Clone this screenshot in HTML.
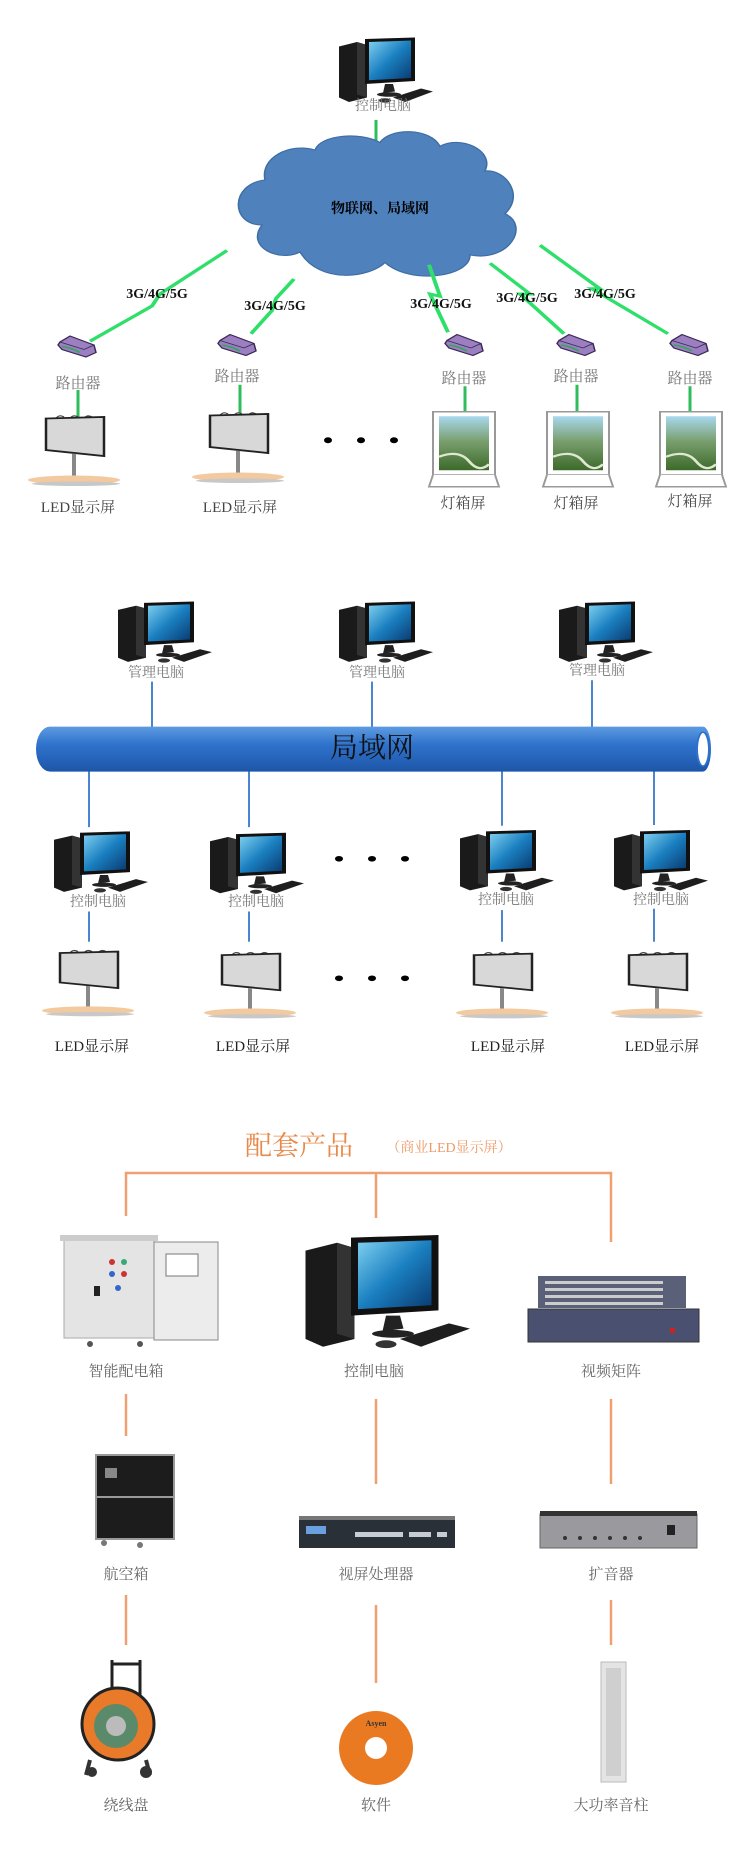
<!DOCTYPE html>
<html><head><meta charset="utf-8"><style>
html,body{margin:0;padding:0;background:#fff}
svg{display:block}
text{font-family:"Liberation Serif","Noto Serif CJK SC","Noto Sans CJK SC",serif}
</style></head><body>
<svg width="740" height="1854" viewBox="0 0 740 1854" xmlns="http://www.w3.org/2000/svg">
<defs>
<linearGradient id="scr" x1="0" y1="0" x2="1" y2="1"><stop offset="0" stop-color="#7fd0f0"/><stop offset="0.5" stop-color="#1a7fc0"/><stop offset="1" stop-color="#0a3a70"/></linearGradient>
<linearGradient id="tube" x1="0" y1="0" x2="0" y2="1"><stop offset="0" stop-color="#5d9be0"/><stop offset="0.4" stop-color="#2f72cc"/><stop offset="1" stop-color="#1d56a8"/></linearGradient>
<linearGradient id="land" x1="0" y1="0" x2="0" y2="1"><stop offset="0" stop-color="#a8d8ef"/><stop offset="0.45" stop-color="#7aa070"/><stop offset="1" stop-color="#3d6a2a"/></linearGradient>
<g id="pc">
 <polygon points="2,12 20,6 30,10 30,80 12,86 2,80" fill="#1a1a1a"/>
 <polygon points="20,6 30,10 30,80 20,76" fill="#333"/>
 <polygon points="28,2 78,0 78,58 28,62" fill="#111"/>
 <polygon points="32,6 74,4 74,54 32,57" fill="url(#scr)"/>
 <polygon points="48,62 56,62 58,72 46,74" fill="#222"/>
 <ellipse cx="52" cy="76" rx="12" ry="3" fill="#222"/>
 <polygon points="56,80 84,68 96,72 68,86" fill="#1e1e1e"/>
 <ellipse cx="48" cy="84" rx="6" ry="3" fill="#333"/>
</g>
<g id="router">
 <path d="M4,8 L14,0 L38,12 L40,22 L30,28 L6,18 L2,12 Z" fill="#9b7fc0" stroke="#3a2a55" stroke-width="1.5"/>
 <path d="M4,8 L28,18 L38,12" fill="none" stroke="#3a2a55" stroke-width="1"/>
 <path d="M6,14 Q16,16 24,22" fill="none" stroke="#2ea85a" stroke-width="2"/>
</g>
<g id="bb">
 <path d="M10,8 q3,-6 8,-2 M24,8 q3,-6 8,-2 M38,8 q3,-6 8,-2" fill="none" stroke="#444" stroke-width="1.5"/>
 <polygon points="0,8 58,6 58,58 0,50" fill="#d8d8d8" stroke="#222" stroke-width="2.5"/>
 <rect x="26" y="55" width="4" height="32" fill="#888"/>
 <ellipse cx="28" cy="90" rx="46" ry="6" fill="#f3c9a0"/>
 <ellipse cx="30" cy="95" rx="44" ry="3" fill="#c8c8c8"/>
</g>
<g id="lb">
 <rect x="4" y="0" width="62" height="84" fill="#fff" stroke="#999" stroke-width="2"/>
 <rect x="10" y="6" width="50" height="72" fill="url(#land)"/>
 <path d="M10,60 Q30,50 40,66 T60,70" stroke="#dfe8d0" stroke-width="3" fill="none"/>
 <path d="M4,84 L0,100 L70,100 L66,84" fill="#fff" stroke="#999" stroke-width="2"/>
</g>
</defs>

<!-- Section 1 shapes -->
<g transform="scale(1,0.75)">
<use href="#pc" x="337" y="50"/>
<line x1="376" y1="160" x2="376" y2="194" stroke="#2ebd5a" stroke-width="3"/>
<path d="M265,240 C230,245 230,300 262,300 C245,330 280,350 300,336 C320,380 370,370 385,350 C410,380 470,370 470,340 C510,350 530,300 505,285 C525,260 505,225 485,228 C495,200 460,180 440,195 C430,170 390,170 380,190 C360,175 320,180 315,200 C290,190 260,210 265,240 Z" fill="#4f81bd" stroke="#3d6da3" stroke-width="1.5"/>
<g fill="none" stroke="#2ee06a" stroke-width="4" stroke-linejoin="miter">
<polyline points="227,334 160,392 152,408 90,455"/>
<polyline points="294,372 276,398 272,414 251,445"/>
<polyline points="429,353 440,395 430,392 448,443"/>
<polyline points="490,351 530,392 520,392 564,445"/>
<polyline points="540,327 600,385 592,385 668,445"/>
</g>
<use href="#router" x="56" y="448"/><use href="#router" x="216" y="446"/>
<use href="#router" x="443" y="446"/><use href="#router" x="555" y="446"/><use href="#router" x="668" y="446"/>
<g stroke="#2ebd5a" stroke-width="3">
<line x1="78" y1="520" x2="78" y2="558"/><line x1="240" y1="513" x2="240" y2="551"/>
<line x1="465" y1="515" x2="465" y2="551"/><line x1="577" y1="513" x2="577" y2="551"/><line x1="690" y1="515" x2="690" y2="551"/>
</g>
<use href="#bb" x="46" y="550"/><use href="#bb" x="210" y="546"/>
<use href="#lb" x="429" y="549"/><use href="#lb" x="543" y="549"/><use href="#lb" x="656" y="549"/>
<g fill="#000"><circle cx="328" cy="587" r="4"/><circle cx="361" cy="587" r="4"/><circle cx="394" cy="587" r="4"/></g>
</g>
<!-- Section 1 text -->
<text x="383" y="110" font-size="14" fill="#777" text-anchor="middle">控制电脑</text>
<text x="380" y="213" font-size="14" font-weight="bold" text-anchor="middle" fill="#000" font-family="Liberation Sans,Noto Sans CJK SC,sans-serif">物联网、局域网</text>
<g font-family="Liberation Mono,monospace" font-weight="bold" font-size="14" fill="#111" text-anchor="middle">
<text x="157" y="298">3G/4G/5G</text>
<text x="275" y="310">3G/4G/5G</text>
<text x="441" y="308">3G/4G/5G</text>
<text x="527" y="302">3G/4G/5G</text>
<text x="605" y="298">3G/4G/5G</text>
</g>
<g font-size="15" fill="#777" text-anchor="middle">
<text x="78" y="388">路由器</text><text x="237" y="381">路由器</text><text x="464" y="383">路由器</text><text x="576" y="381">路由器</text><text x="690" y="383">路由器</text>
</g>
<g font-size="15" fill="#444" text-anchor="middle">
<text x="78" y="512">LED显示屏</text><text x="240" y="512">LED显示屏</text>
<text x="463" y="508">灯箱屏</text><text x="576" y="508">灯箱屏</text><text x="690" y="506">灯箱屏</text>
</g>

<!-- Section 2 shapes -->
<g transform="translate(0,560) scale(1,0.703) translate(0,-560)">
<use href="#pc" x="116" y="619"/><use href="#pc" x="337" y="619"/><use href="#pc" x="557" y="619"/>
<g stroke="#4a86d0" stroke-width="2">
<line x1="152" y1="733" x2="152" y2="798"/><line x1="372" y1="733" x2="372" y2="798"/><line x1="592" y1="731" x2="592" y2="798"/>
<line x1="89" y1="860" x2="89" y2="940"/><line x1="249" y1="860" x2="249" y2="940"/><line x1="502" y1="860" x2="502" y2="938"/><line x1="654" y1="860" x2="654" y2="937"/>
<line x1="89" y1="1060" x2="89" y2="1103"/><line x1="249" y1="1060" x2="249" y2="1103"/><line x1="502" y1="1058" x2="502" y2="1103"/><line x1="654" y1="1056" x2="654" y2="1103"/>
</g>
<path d="M50,797 L703,797 A8,32 0 0 1 703,861 L50,861 A14,32 0 0 1 50,797 Z" fill="url(#tube)"/>
<ellipse cx="703" cy="829" rx="6" ry="24" fill="#fff" stroke="#2f72cc" stroke-width="2"/>
<use href="#pc" x="52" y="946"/><use href="#pc" x="208" y="948"/><use href="#pc" x="458" y="944"/><use href="#pc" x="612" y="944"/>
<g fill="#000"><circle cx="339" cy="985" r="4"/><circle cx="372" cy="985" r="4"/><circle cx="405" cy="985" r="4"/>
<circle cx="339" cy="1155" r="4"/><circle cx="372" cy="1155" r="4"/><circle cx="405" cy="1155" r="4"/></g>
<use href="#bb" x="60" y="1111"/><use href="#bb" x="222" y="1114"/><use href="#bb" x="474" y="1114"/><use href="#bb" x="629" y="1114"/>
</g>
<!-- Section 2 text -->
<g font-size="14" fill="#777" text-anchor="middle">
<text x="156" y="677">管理电脑</text><text x="377" y="677">管理电脑</text><text x="597" y="675">管理电脑</text>
<text x="98" y="906">控制电脑</text><text x="256" y="906">控制电脑</text><text x="506" y="904">控制电脑</text><text x="661" y="904">控制电脑</text>
</g>
<text x="372" y="757" font-size="28" text-anchor="middle" fill="#111" font-family="Liberation Sans,Noto Sans CJK SC,sans-serif">局域网</text>
<g font-size="15" fill="#222" text-anchor="middle">
<text x="92" y="1051">LED显示屏</text><text x="253" y="1051">LED显示屏</text><text x="508" y="1051">LED显示屏</text><text x="662" y="1051">LED显示屏</text>
</g>

<!-- Section 3 -->
<text x="299" y="1155" font-size="27" fill="#e8894a" text-anchor="middle">配套产品</text>
<text x="449" y="1152" font-size="14" fill="#ec9a66" text-anchor="middle">（商业LED显示屏）</text>
<g stroke="#f0a070" stroke-width="2.5" fill="none">
<polyline points="126,1216 126,1173 611,1173 611,1242"/>
<line x1="376" y1="1173" x2="376" y2="1218"/>
<line x1="126" y1="1394" x2="126" y2="1436"/><line x1="376" y1="1399" x2="376" y2="1484"/><line x1="611" y1="1399" x2="611" y2="1484"/>
<line x1="126" y1="1595" x2="126" y2="1645"/><line x1="376" y1="1605" x2="376" y2="1683"/><line x1="611" y1="1600" x2="611" y2="1645"/>
</g>
<rect x="64" y="1238" width="90" height="100" fill="#e4e4e4" stroke="#aaa"/>
<rect x="60" y="1235" width="98" height="6" fill="#ccc"/>
<rect x="154" y="1242" width="64" height="98" fill="#ececec" stroke="#888"/>
<rect x="166" y="1254" width="32" height="22" fill="#fff" stroke="#777"/>
<g fill="#c33"><circle cx="112" cy="1262" r="3"/><circle cx="124" cy="1262" r="3" fill="#3a7"/><circle cx="112" cy="1274" r="3" fill="#36c"/><circle cx="124" cy="1274" r="3"/><circle cx="118" cy="1288" r="3" fill="#36c"/></g>
<rect x="94" y="1286" width="6" height="10" fill="#222"/>
<circle cx="90" cy="1344" r="3" fill="#555"/><circle cx="140" cy="1344" r="3" fill="#555"/>
<text x="126" y="1376" font-size="15" fill="#666" text-anchor="middle">智能配电箱</text>
<g transform="translate(302,1235) scale(1.75,1.3)"><use href="#pc"/></g>
<text x="374" y="1376" font-size="15" fill="#666" text-anchor="middle">控制电脑</text>
<rect x="538" y="1276" width="148" height="32" fill="#5a6078"/>
<g fill="#ccc"><rect x="545" y="1281" width="118" height="3"/><rect x="545" y="1288" width="118" height="3"/><rect x="545" y="1295" width="118" height="3"/><rect x="545" y="1302" width="118" height="3"/></g>
<rect x="528" y="1309" width="171" height="33" fill="#4a5070" stroke="#333"/>
<rect x="670" y="1328" width="5" height="5" fill="#c22"/>
<text x="611" y="1376" font-size="15" fill="#666" text-anchor="middle">视频矩阵</text>
<rect x="96" y="1455" width="78" height="84" fill="#1c1c1c" stroke="#999" stroke-width="2"/>
<line x1="96" y1="1497" x2="174" y2="1497" stroke="#999" stroke-width="2"/>
<rect x="105" y="1468" width="12" height="10" fill="#888"/>
<circle cx="104" cy="1543" r="3" fill="#777"/><circle cx="140" cy="1545" r="3" fill="#777"/>
<text x="126" y="1579" font-size="15" fill="#666" text-anchor="middle">航空箱</text>
<rect x="299" y="1518" width="156" height="30" fill="#2a3038"/>
<rect x="299" y="1516" width="156" height="4" fill="#777"/>
<rect x="306" y="1526" width="20" height="8" fill="#6aa0e0"/>
<g fill="#c8ccd4"><rect x="355" y="1532" width="48" height="5"/><rect x="409" y="1532" width="22" height="5"/><rect x="437" y="1532" width="10" height="5"/></g>
<text x="376" y="1579" font-size="15" fill="#666" text-anchor="middle">视屏处理器</text>
<rect x="540" y="1514" width="157" height="34" fill="#9a9a9e" stroke="#666"/>
<rect x="540" y="1511" width="157" height="5" fill="#333"/>
<g fill="#333"><circle cx="565" cy="1538" r="2"/><circle cx="580" cy="1538" r="2"/><circle cx="595" cy="1538" r="2"/><circle cx="610" cy="1538" r="2"/><circle cx="625" cy="1538" r="2"/><circle cx="640" cy="1538" r="2"/></g>
<rect x="667" y="1525" width="8" height="10" fill="#222"/>
<text x="611" y="1579" font-size="15" fill="#666" text-anchor="middle">扩音器</text>
<path d="M112,1660 L112,1700 M140,1660 L140,1700 M112,1664 L140,1664" stroke="#222" stroke-width="3" fill="none"/>
<circle cx="118" cy="1724" r="36" fill="#e87a2a" stroke="#222" stroke-width="3"/>
<circle cx="116" cy="1726" r="22" fill="#5a8a6a"/>
<circle cx="116" cy="1726" r="10" fill="#bbb"/>
<path d="M90,1760 L86,1775 M146,1760 L150,1775" stroke="#333" stroke-width="4"/>
<circle cx="92" cy="1772" r="5" fill="#333"/><circle cx="146" cy="1772" r="6" fill="#333"/>
<text x="126" y="1810" font-size="15" fill="#666" text-anchor="middle">绕线盘</text>
<circle cx="376" cy="1748" r="37" fill="#ea7a22"/>
<circle cx="376" cy="1748" r="11" fill="#fff"/>
<text x="376" y="1726" font-size="8" font-weight="bold" text-anchor="middle" fill="#333" font-family="Liberation Sans,sans-serif">Asyen</text>
<text x="376" y="1810" font-size="15" fill="#666" text-anchor="middle">软件</text>
<rect x="601" y="1662" width="25" height="120" fill="#e4e4e4" stroke="#bbb"/>
<rect x="606" y="1668" width="15" height="108" fill="#cfcfcf"/>
<text x="611" y="1810" font-size="15" fill="#666" text-anchor="middle">大功率音柱</text>
</svg>
</body></html>
